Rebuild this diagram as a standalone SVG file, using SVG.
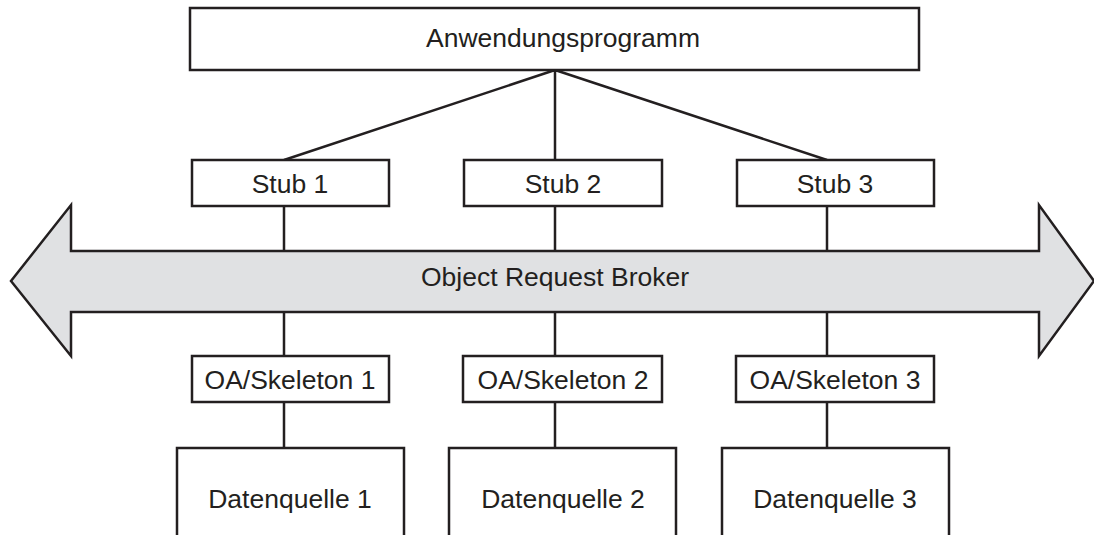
<svg xmlns="http://www.w3.org/2000/svg" width="1094" height="535" viewBox="0 0 1094 535">
<style>
.box{fill:#fff;stroke:#231f20;stroke-width:2.5}
.ln{fill:none;stroke:#231f20;stroke-width:2.5}
.t{font-family:"Liberation Sans",Arial,sans-serif;font-size:26.5px;fill:#231f20;text-anchor:middle}
</style>
<rect width="1094" height="535" fill="#fff"/>
<g id="connectors">
<path class="ln" d="M555 70 L284 160 M555 70 V160 M555 70 L827 160"/>
<path class="ln" d="M284 206 V251 M555 206 V251 M827 206 V251"/>
<path class="ln" d="M284 312 V356 M555 312 V356 M827 312 V356"/>
<path class="ln" d="M284 402 V448 M555 402 V448 M827 402 V448"/>
</g>
<g id="orb">
<path d="M11 281 L71 205 V251 H1039 V205 L1094 281 L1039 356 V312 H71 V356 Z" fill="#e0e1e3" stroke="#231f20" stroke-width="2.5" stroke-linejoin="miter"/>
<text class="t" x="555" y="286">Object Request Broker</text>
</g>
<g id="app"><rect class="box" x="190" y="8" width="729" height="62"/><text class="t" x="563" y="47">Anwendungsprogramm</text></g>
<g id="stub1"><rect class="box" x="192" y="160" width="197" height="46"/><text class="t" x="290" y="193">Stub 1</text></g>
<g id="stub2"><rect class="box" x="464" y="160" width="198" height="46"/><text class="t" x="563" y="193">Stub 2</text></g>
<g id="stub3"><rect class="box" x="737" y="160" width="197" height="46"/><text class="t" x="835" y="193">Stub 3</text></g>
<g id="oa1"><rect class="box" x="192" y="356" width="197" height="46"/><text class="t" x="290" y="389">OA/Skeleton 1</text></g>
<g id="oa2"><rect class="box" x="463" y="356" width="199" height="46"/><text class="t" x="563" y="389">OA/Skeleton 2</text></g>
<g id="oa3"><rect class="box" x="736" y="356" width="198" height="46"/><text class="t" x="835" y="389">OA/Skeleton 3</text></g>
<g id="ds1"><rect class="box" x="177" y="448" width="227" height="100"/><text class="t" x="290" y="508">Datenquelle 1</text></g>
<g id="ds2"><rect class="box" x="449" y="448" width="227" height="100"/><text class="t" x="563" y="508">Datenquelle 2</text></g>
<g id="ds3"><rect class="box" x="722" y="448" width="227" height="100"/><text class="t" x="835" y="508">Datenquelle 3</text></g>
</svg>
